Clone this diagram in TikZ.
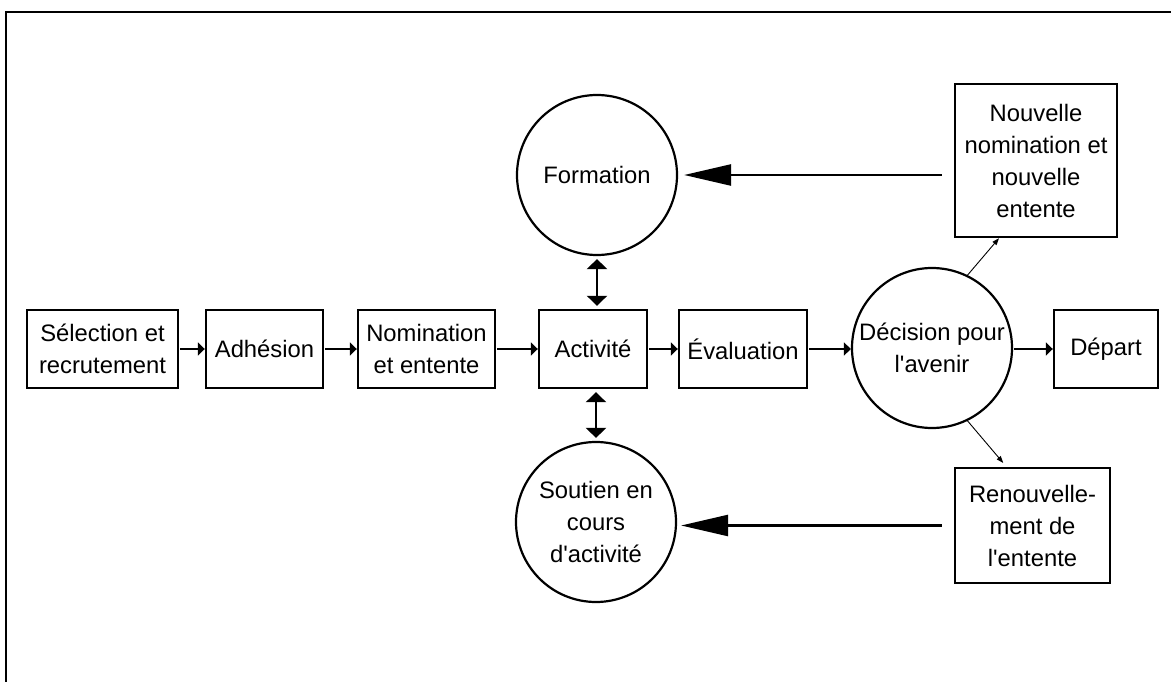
\documentclass[tikz,border=0pt]{standalone}
\usepackage{fontspec}
\setmainfont{Liberation Sans}
\usetikzlibrary{arrows.meta}
\newcommand{\apos}{\textquotesingle}
\begin{document}
\begin{tikzpicture}[x=1pt,y=-1pt,
  every node/.style={font=\fontsize{23.8}{32}\selectfont, align=center},
  box/.style={draw, line width=2.4pt, inner sep=0pt, minimum height=78pt},
  circ/.style={draw, circle, line width=2.2pt, inner sep=0pt, minimum size=160pt},
  flow/.style={line width=2.4pt, -{Triangle[length=7pt,width=13pt]}},
  big/.style={line width=2.4pt, -{Triangle[length=47pt,width=21pt]}},
  dbl/.style={line width=2.4pt, {Triangle[length=10pt,width=20pt]}-{Triangle[length=10pt,width=20pt]}, shorten <=3pt, shorten >=3pt},
  thinarr/.style={line width=0.9pt, -{Triangle[length=7pt,width=5pt]}}]
\useasboundingbox (0,0) rectangle (1171,682);
\draw[line width=2.4pt] (6,682) -- (6,12) -- (1171,12);

\node[box, minimum width=151pt] (sel) at (102.5,349) {Sélection et\\recrutement};
\node[box, minimum width=117pt] (adh) at (264.5,349) {Adhésion};
\node[box, minimum width=137pt] (nom) at (426.5,349) {Nomination\\et entente};
\node[box, minimum width=108pt] (act) at (593,349) {Activité};
\node[box, minimum width=128pt] (eval) at (743,349) {Évaluation};
\node[circ] (dec) at (932,348) {Décision pour\\l\apos avenir};
\node[box, minimum width=104pt] (dep) at (1106,349) {Départ};
\node[box, minimum width=162pt, minimum height=153pt] (nouv) at (1036,160.5) {Nouvelle\\nomination et\\nouvelle\\entente};
\node[box, minimum width=155pt, minimum height=115pt] (ren) at (1032.5,525.5) {Renouvelle-\\ment de\\l\apos entente};
\node[circ] (form) at (597,175) {Formation};
\node[circ] (sout) at (596,522) {Soutien en\\cours\\d\apos activité};

\draw[flow, shorten <=1pt] (sel) -- (adh);
\draw[flow, shorten <=1pt] (adh) -- (nom);
\draw[flow, shorten <=1pt] (nom) -- (act);
\draw[flow, shorten <=1pt] (act) -- (eval);
\draw[flow, shorten <=1pt] (eval) -- (eval -| dec.west);
\draw[flow, shorten <=1pt] (dec.east |- dep) -- (dep);

\draw[big, shorten <=12pt, shorten >=6pt] (nouv.west |- form.east) -- (form.east);
\draw[big, shorten <=12pt, shorten >=4pt] (ren.west) -- (sout.east |- ren.west);

\draw[dbl] (form.south) -- (form.south |- act.north);
\draw[dbl] (sout.north |- act.south) -- (sout.north);

\draw[thinarr] (dec.64) -- ([xshift=-37pt]nouv.south);
\draw[thinarr, shorten >=5pt] (dec.-64) -- ([xshift=-26pt]ren.north);
\end{tikzpicture}
\end{document}
